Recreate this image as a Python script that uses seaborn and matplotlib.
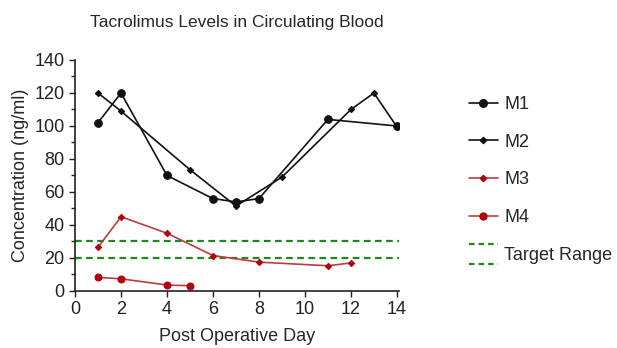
import matplotlib
matplotlib.use("Agg")
import matplotlib.pyplot as plt
import seaborn as sns
import pandas as pd
from matplotlib.lines import Line2D
from matplotlib.legend_handler import HandlerBase

# data
m1_day = [1, 2, 4, 6, 7, 8, 11, 14]
m1_conc = [102, 120, 70, 56, 54, 56, 104, 100]
m2_day = [1, 2, 5, 7, 9, 12, 13, 14]
m2_conc = [120, 109, 73.5, 51.5, 69, 110, 120, 99.5]
m3_day = [1, 2, 4, 6, 8, 11, 12]
m3_conc = [26.5, 45, 35, 21.5, 17.5, 15.3, 17]
m4_day = [1, 2, 4, 5]
m4_conc = [8.2, 7.4, 3.6, 3.2]
target_low, target_high = 20, 30

sns.set_style("ticks")
plt.rcParams['font.family'] = ['Liberation Sans', 'DejaVu Sans']

fig = plt.figure(figsize=(6.17, 3.48), dpi=100)
ax = fig.add_axes([0.1216, 0.1638, 0.5254, 0.6638])

black = "#111111"
red = "#b00010"
green = "#1a8a1a"
series = [
    ("M1", m1_day, m1_conc, black, black, "o", 5.5),
    ("M2", m2_day, m2_conc, black, black, "D", 3.2),
    ("M3", m3_day, m3_conc, "#c23a3a", red, "D", 3.2),
    ("M4", m4_day, m4_conc, "#c23a3a", red, "o", 5.0),
]
handles = []
for name, d, c, lc, mc, mk, ms in series:
    df = pd.DataFrame({"day": d, "conc": c})
    sns.lineplot(data=df, x="day", y="conc", ax=ax, color=lc, lw=1.2,
                 marker=mk, markersize=ms, markerfacecolor=mc,
                 markeredgecolor=mc, sort=False, legend=False)
    handles.append(Line2D([], [], color=lc, lw=1.2, marker=mk, markersize=ms,
                          markerfacecolor=mc, markeredgecolor=mc))

for yv in (target_low, target_high):
    ax.axhline(yv, color=green, ls=(0, (3, 2)), lw=1.6, zorder=0)


class TwoDash(HandlerBase):
    # two stacked dashed strokes, one for each target line
    def create_artists(self, legend, orig, xd, yd, w, h, fs, trans):
        out = []
        for yy in (yd - h * 0.35, yd + h * 1.25):
            out.append(Line2D([xd, xd + w], [yy, yy], color=green,
                              ls=(0, (2.5, 1.8)), lw=1.6, transform=trans))
        return out


target_handle = Line2D([], [], color=green, ls="--")
ax.legend(handles + [target_handle], ["M1", "M2", "M3", "M4", "Target Range"],
          handler_map={target_handle: TwoDash()},
          loc="upper left", bbox_to_anchor=(1.165, 0.915), frameon=False,
          fontsize=13, handlelength=1.6, handletextpad=0.35, labelspacing=1.15)

ax.set_xlim(0, 14.1)
ax.set_ylim(0, 140)
ax.set_xticks(range(0, 15, 2))
ax.set_yticks(range(0, 141, 20))
ax.set_yticks(range(10, 140, 20), minor=True)
ax.tick_params(axis="both", labelsize=13, colors="#222222", length=4, width=1)
ax.tick_params(axis="y", which="minor", length=3, width=1)
ax.set_xlabel("Post Operative Day", fontsize=13, labelpad=7)
ax.set_ylabel("Concentration (ng/ml)", fontsize=13, labelpad=4)
ax.set_title("Tacrolimus Levels in Circulating Blood", fontsize=12.5, pad=24)
sns.despine(ax=ax)
for s in ("left", "bottom"):
    ax.spines[s].set_linewidth(1.2)
    ax.spines[s].set_color("#222222")

fig.savefig("out.png", dpi=100)
